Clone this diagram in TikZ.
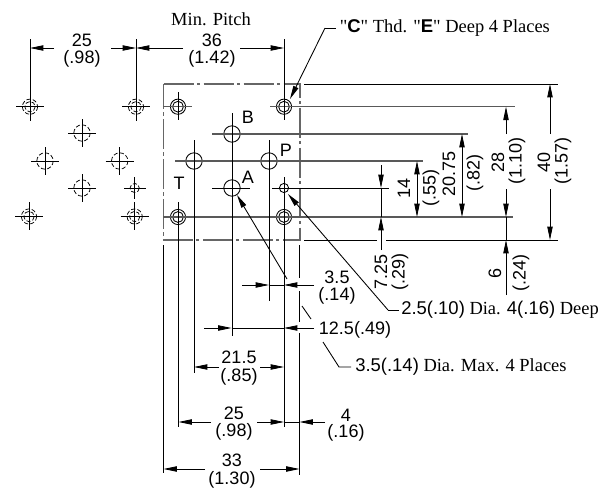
\documentclass[tikz,border=0pt]{standalone}
\usepackage{fontspec}
\newfontfamily\notefont{Liberation Serif}
\setsansfont{Liberation Sans}
\usetikzlibrary{arrows.meta}
\tikzset{
  line/.style={line width=0.65pt,color=black},
  mid/.style={line width=0.8pt,color=black!65},
  dim/.style={line width=0.65pt,-{Stealth[inset=0pt,length=10pt,width=4pt]}},
  plate/.style={line width=0.8pt,color=black!60,dash pattern=on 22.5pt off 2.5pt on 2.5pt off 2.5pt},
  hidden/.style={line width=0.55pt,dash pattern=on 3.2pt off 1.6pt},
  num/.style={font=\sffamily\fontsize{13.5}{15}\selectfont,inner sep=0pt},
  vnum/.style={num,rotate=90},
  note/.style={font=\notefont\fontsize{13.85}{15}\selectfont,inner sep=0pt},
}
\begin{document}
\begin{tikzpicture}[x=0.75pt,y=-0.75pt]
\useasboundingbox (0,0) rectangle (608,489);
% plate outline
\draw [plate] (163.5,84)-- (300,84)-- (300,240)-- (163.5,240)-- cycle;
% ports and mounting holes
\draw [line] (178,106.7) circle (7.6);
\draw [line] (178,106.7) circle (5.4);
\draw [line] (284,106.7) circle (7.6);
\draw [line] (284,106.7) circle (5.4);
\draw [line] (178,217) circle (7.6);
\draw [line] (178,217) circle (5.4);
\draw [line] (284,217) circle (7.6);
\draw [line] (284,217) circle (5.4);
\draw [line] (232,134) circle (8.2);
\draw [line] (194,161) circle (8.2);
\draw [line] (269,161) circle (8.2);
\draw [line] (232,188) circle (8.2);
\draw [line] (284,188) circle (4.6);
% center lines of the plate
\draw [mid] (163,106.7)-- (192,106.7);
\draw [line] (178,92)-- (178,120);
\draw [mid] (270,106.7)-- (515,106.7);
\draw [mid] (212,134)-- (468,134);
\draw [mid] (175,161)-- (423,161);
\draw [line] (212,188)-- (250,188);
\draw [line] (272,188)-- (389,188);
\draw [mid] (163,217)-- (513,217);
\draw [line] (304,84)-- (558,84);
\draw [line] (304,240)-- (377,240);
\draw [line] (386,240)-- (558,240);
\draw [line] (284,39)-- (284,120);
\draw [line] (232,113)-- (232,336);
\draw [line] (194,140)-- (194,373);
\draw [line] (269,140)-- (269,301);
\draw [line] (284,177)-- (284,427);
\draw [line] (178.5,202)-- (178.5,427);
\draw [line] (163.5,245)-- (163.5,473);
\draw [line] (299.5,245)-- (299.5,278);
\draw [line] (299.5,291)-- (299.5,322);
\draw [line] (299.5,333)-- (299.5,475);
% hole pattern on the left
\draw [hidden] (30,106.7) circle (7.6);
\draw [hidden] (30,106.7) circle (5.2);
\draw [line] (16,106.7)-- (44,106.7);
\draw [line] (30,39)-- (30,121);
\draw [hidden] (136,106.7) circle (7.6);
\draw [hidden] (136,106.7) circle (5.2);
\draw [line] (122,106.7)-- (150,106.7);
\draw [line] (136,39)-- (136,121);
\draw [hidden] (29,216.5) circle (7.6);
\draw [hidden] (29,216.5) circle (5.2);
\draw [line] (15,216.5)-- (43,216.5);
\draw [line] (29,202)-- (29,230);
\draw [hidden] (134.7,216.5) circle (7.6);
\draw [hidden] (134.7,216.5) circle (5.2);
\draw [line] (120.5,216.5)-- (149,216.5);
\draw [line] (134.7,202)-- (134.7,230);
\draw [hidden] (82,133) circle (8.2);
\draw [line] (68,133)-- (96,133);
\draw [line] (82,119)-- (82,147);
\draw [hidden] (45,161) circle (8.2);
\draw [line] (31,161)-- (59,161);
\draw [line] (45,147)-- (45,175);
\draw [hidden] (119.7,161) circle (8.2);
\draw [line] (105.5,161)-- (134,161);
\draw [line] (119.7,147)-- (119.7,175);
\draw [hidden] (82,188) circle (8.2);
\draw [line] (68,188)-- (96,188);
\draw [line] (82,174)-- (82,202);
\draw [hidden] (134.7,188) circle (4.6);
\draw [line] (124,188)-- (145.5,188);
\draw [line] (134.7,177)-- (134.7,199);
% top dimensions
\draw [dim] (54,48)-- (30,48);
\draw [dim] (111,48)-- (136,48);
\draw [dim] (183,48)-- (136,48);
\draw [dim] (240,48)-- (284,48);
% right dimensions
\draw [dim] (381,165)-- (381,188);
\draw [line] (381,188)-- (381,217);
\draw [dim] (381,250)-- (381,217);
\draw [dim] (417,189)-- (417,161);
\draw [dim] (417,189)-- (417,217);
\draw [dim] (462,175)-- (462,134);
\draw [dim] (462,175)-- (462,217);
\draw [dim] (506,134)-- (506,106.7);
\draw [dim] (506,189)-- (506,217);
\draw [line] (506,217)-- (506,240);
\draw [dim] (506,295)-- (506,240);
\draw [dim] (550,134)-- (550,84);
\draw [dim] (550,189)-- (550,240);
% bottom dimensions
\draw [dim] (242,285)-- (269,285);
\draw [line] (269,285)-- (284,285);
\draw [dim] (314,285)-- (284,285);
\draw [dim] (204,328)-- (231.5,328);
\draw [line] (231.5,328)-- (284,328);
\draw [dim] (314,328)-- (284,328);
\draw [dim] (219,367)-- (194,367);
\draw [dim] (260,367)-- (284,367);
\draw [dim] (211,422)-- (178.5,422);
\draw [dim] (257,422)-- (284,422);
\draw [line] (284,422)-- (299.5,422);
\draw [dim] (325,422)-- (299.5,422);
\draw [dim] (205,469)-- (163.5,469);
\draw [dim] (260,469)-- (299.5,469);
% leaders
\draw [dim] (325,28)-- (290,99);
\draw [line] (325,28)-- (336,28);
\draw [dim] (287,279)-- (237,195);
\draw [line] (302,306)-- (311,319);
\draw [line] (323,342)-- (339,367)-- (351,367);
\draw [dim] (388,310)-- (288,194);
\draw [line] (388,310)-- (399,310);
% port letters
\node [num] (labelb) at (248,117) {B};
\node [num] (labelp) at (286,150) {P};
\node [num] (labela) at (248,177) {A};
\node [num] (labelt) at (179,183) {T};
% texts
\node [note] (pitch) at (211,19) {Min. Pitch};
\node [note,anchor=west] (thread) at (339.5,28) {"\textsf{\bfseries C}" Thd. "\textsf{\bfseries E}" Deep 4 Places};
\node [note,anchor=west] (drill) at (401,310) {\textsf{2.5(.10)} Dia. \textsf{4(.16)} Deep};
\node [note,anchor=west] (pin) at (355,367) {\textsf{3.5(.14)} Dia. Max. 4 Places};
\node [num] (d25a) at (82,40) {25};
\node [num] (i25a) at (82,59) {(.98)};
\node [num] (d36) at (212,40) {36};
\node [num] (i36) at (212,59) {(1.42)};
\node [num] (d35) at (337,277) {3.5};
\node [num] (i35) at (337,296) {(.14)};
\node [num] (d125) at (355,330) {12.5(.49)};
\node [num] (d215) at (239,357) {21.5};
\node [num] (i215) at (239,377) {(.85)};
\node [num] (d25b) at (234,413) {25};
\node [num] (i25b) at (234,432) {(.98)};
\node [num] (d4) at (346,415) {4};
\node [num] (i4) at (346,433) {(.16)};
\node [num] (d33) at (232,460) {33};
\node [num] (i33) at (232,480) {(1.30)};
\node [vnum] (d14) at (404,188) {14};
\node [vnum] (i14) at (431,188) {(.55)};
\node [vnum] (d2075) at (449,174) {20.75};
\node [vnum] (i2075) at (475,173) {(.82)};
\node [vnum] (d28) at (498,162) {28};
\node [vnum] (i28) at (517,161) {(1.10)};
\node [vnum] (d40) at (544,162) {40};
\node [vnum] (i40) at (563,161) {(1.57)};
\node [vnum] (d725) at (381,272) {7.25};
\node [vnum] (i725) at (400,272) {(.29)};
\node [vnum] (d6) at (495,273) {6};
\node [vnum] (i6) at (521,273) {(.24)};
\end{tikzpicture}
\end{document}
